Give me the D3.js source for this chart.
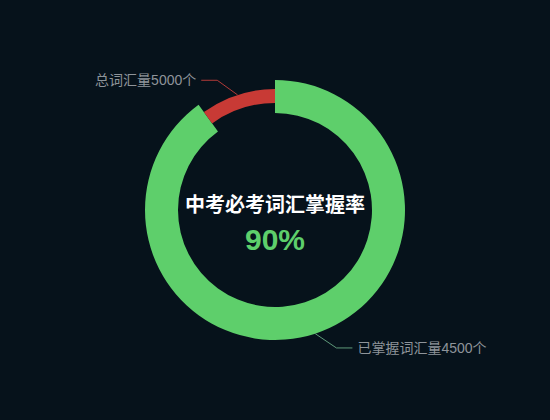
<!DOCTYPE html>
<html>
<head>
<meta charset="utf-8">
<script src="https://cdn.jsdelivr.net/npm/d3@7"></script>
<style>
  html, body { margin: 0; padding: 0; background: #06121b; }
  svg { display: block; }
</style>
</head>
<body>
<div id="chart"></div>
<script>
// chart data
var names = ['已掌握词汇量4500个', '总词汇量5000个'];
var values = [4500, 500];
var colors = ['#5ecf6b', '#c83a35'];
var lineColors = ['#5f9a7a', '#b23a38'];
var title = '中考必考词汇掌握率';
var rateText = '90%';

// some constants for the page
var width = 550;
var height = 420;
var cx = 275;
var cy = 210;
var font = '"Liberation Sans", "Noto Sans CJK SC", sans-serif';

var svg = d3.select('#chart')
    .append('svg')
    .attr('width', width)
    .attr('height', height);

svg.append('rect')
    .attr('width', width)
    .attr('height', height)
    .attr('fill', '#06121b');

var g = svg.append('g')
    .attr('transform', 'translate(' + cx + ',' + cy + ')');

// green ring is wide, red one is a thin band inside it
var radii = [
    {inner: 97, outer: 130},
    {inner: 107, outer: 121}
];

var pie = d3.pie().sort(null).startAngle(0).endAngle(2 * Math.PI);
var arcs = pie(values);

g.selectAll('path.slice')
    .data(arcs)
    .enter()
    .append('path')
    .attr('class', 'slice')
    .attr('d', function(d, i) {
        return d3.arc().innerRadius(radii[i].inner).outerRadius(radii[i].outer)(d);
    })
    .attr('fill', function(d, i) { return colors[i]; });

// leader lines and labels
function pt(angle, r) {
    return [r * Math.sin(angle), -r * Math.cos(angle)];
}

arcs.forEach(function(d, i) {
    var mid = (d.startAngle + d.endAngle) / 2;
    var right = Math.sin(mid) > 0;
    var tilt = (6 * Math.PI / 180) * (Math.cos(mid) > 0 ? (right ? 1 : -1) : (right ? -1 : 1));
    var p0 = pt(mid, radii[i].outer);
    var p1 = pt(mid + tilt, radii[i].outer + 21);
    var p2 = [p1[0] + (right ? 16 : -16), p1[1]];

    g.append('polyline')
        .attr('points', [p0, p1, p2].map(function(p) { return p.join(','); }).join(' '))
        .attr('fill', 'none')
        .attr('stroke', lineColors[i])
        .attr('stroke-width', 1);

    g.append('text')
        .attr('x', p2[0] + (right ? 5 : -5))
        .attr('y', p2[1])
        .attr('dy', '0.35em')
        .attr('text-anchor', right ? 'start' : 'end')
        .attr('fill', '#8e949a')
        .style('font-family', font)
        .style('font-size', '14px')
        .text(names[i]);
});

// centre texts
g.append('text')
    .attr('x', 0)
    .attr('y', 2)
    .attr('text-anchor', 'middle')
    .attr('fill', '#ffffff')
    .style('font-family', font)
    .style('font-size', '20px')
    .style('font-weight', 'bold')
    .text(title);

g.append('text')
    .attr('x', 0)
    .attr('y', 40)
    .attr('text-anchor', 'middle')
    .attr('fill', '#5ecf6b')
    .style('font-family', font)
    .style('font-size', '30px')
    .style('font-weight', 'bold')
    .text(rateText);
</script>
</body>
</html>
